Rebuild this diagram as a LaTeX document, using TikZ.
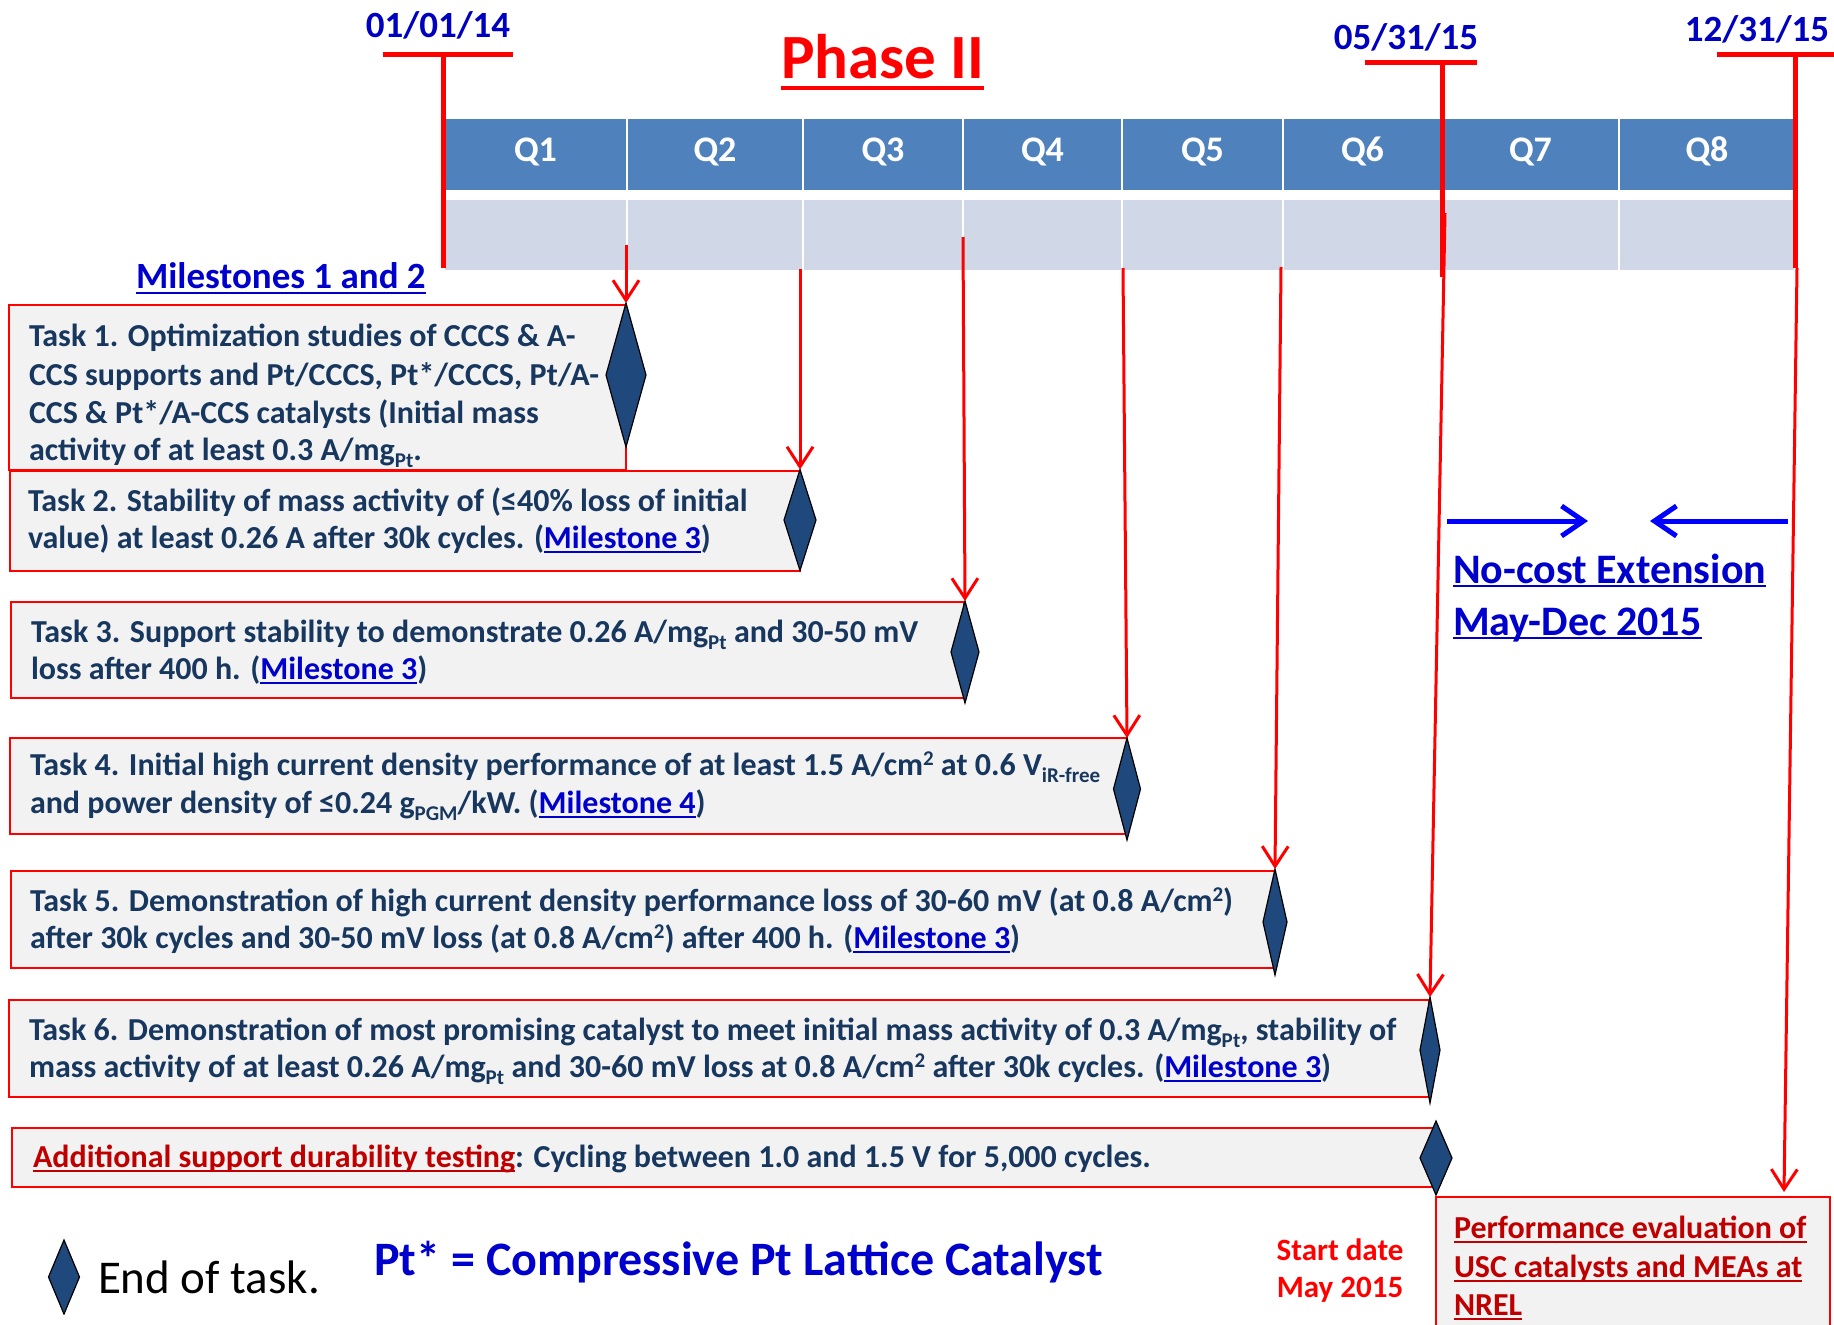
\documentclass[tikz,border=0pt]{standalone}
\usepackage{fontspec}
\setmainfont{Carlito}
\usetikzlibrary{arrows.meta,shapes.geometric}
\definecolor{taskcol}{HTML}{17375E}
\definecolor{linkblue}{HTML}{0000CC}
\definecolor{dateblue}{HTML}{0000C0}
\definecolor{qblue}{HTML}{4F81BD}
\definecolor{qgray}{HTML}{D0D8E8}
\definecolor{boxgray}{HTML}{F2F2F2}
\definecolor{diafill}{HTML}{1F497D}
\definecolor{darkred}{HTML}{C00000}
\newcommand\fsz[1]{\fontsize{#1}{#1}\selectfont}
\newcommand\sbs[1]{\raisebox{-7pt}{\fontsize{21}{21}\selectfont #1}}
\newcommand\sps[1]{\raisebox{10pt}{\fontsize{21}{21}\selectfont #1}}
\newcommand\myul[3]{\setbox0=\hbox{#3}\rlap{\rule[-#1]{\wd0}{#2}}\box0}
\newcommand\ms[1]{\textcolor{linkblue}{\myul{5pt}{2pt}{Milestone #1}}}
\tikzset{
  every node/.style={inner sep=0pt,outer sep=0pt},
  qcell/.style={draw=white,line width=2.5pt,fill=qblue,minimum height=73pt},
  gcell/.style={draw=white,line width=2.5pt,fill=qgray,minimum height=72pt},
  qlab/.style={anchor=base,text=white,font=\fsz{36}\bfseries},
  datetxt/.style={anchor=base,text=dateblue,font=\fsz{37}\bfseries},
  datebar/.style={draw=red,line width=5.5pt},
  dateline/.style={draw=red,line width=5pt},
  taskbox/.style={draw=red,line width=2.2pt,fill=boxgray,anchor=north west},
  enddia/.style={shape=diamond,draw=black,line width=1.2pt,fill=diafill},
  tasktxt/.style={anchor=base west,text=taskcol,font=\fsz{32}\bfseries},
  redarr/.style={draw=red,line width=3pt,-{Straight Barb[length=20pt,width=26pt]}},
  bluearr/.style={draw=blue,line width=5pt,-{Straight Barb[length=22pt,width=30pt]}},
}
\begin{document}
\begin{tikzpicture}[x=1pt,y=-1pt]
\useasboundingbox (0,0) rectangle (1834,1325);
\clip (0,0) rectangle (1834,1325);
\fill[white] (0,0) rectangle (1834,1325);

% header
\node[qcell,minimum width=183pt] (q1) at (535.5,154.5) {};
\node[qcell,minimum width=176pt] (q2) at (715,154.5) {};
\node[qcell,minimum width=160pt] (q3) at (883,154.5) {};
\node[qcell,minimum width=159pt] (q4) at (1042.5,154.5) {};
\node[qcell,minimum width=161pt] (q5) at (1202.5,154.5) {};
\node[qcell,minimum width=159pt] (q6) at (1362.5,154.5) {};
\node[qcell,minimum width=177pt] (q7) at (1530.5,154.5) {};
\node[qcell,minimum width=176pt] (q8) at (1707,154.5) {};
\node[gcell,minimum width=183pt] (g1) at (535.5,235) {};
\node[gcell,minimum width=176pt] (g2) at (715,235) {};
\node[gcell,minimum width=160pt] (g3) at (883,235) {};
\node[gcell,minimum width=159pt] (g4) at (1042.5,235) {};
\node[gcell,minimum width=161pt] (g5) at (1202.5,235) {};
\node[gcell,minimum width=159pt] (g6) at (1362.5,235) {};
\node[gcell,minimum width=177pt] (g7) at (1530.5,235) {};
\node[gcell,minimum width=176pt] (g8) at (1707,235) {};
\node[qlab] (l1) at (535.5,161) {Q1};
\node[qlab] (l2) at (715,161) {Q2};
\node[qlab] (l3) at (883,161) {Q3};
\node[qlab] (l4) at (1042.5,161) {Q4};
\node[qlab] (l5) at (1202.5,161) {Q5};
\node[qlab] (l6) at (1362.5,161) {Q6};
\node[qlab] (l7) at (1530.5,161) {Q7};
\node[qlab] (l8) at (1707,161) {Q8};

% title
\node[anchor=base west,text=red,font=\fsz{63}\bfseries] (phase) at (781,78) {\myul{12pt}{4pt}{Phase II}};

% date marks
\node[datetxt] (date1) at (438,37) {01/01/14};
\node[datetxt] (date2) at (1406,49) {05/31/15};
\node[datetxt] (date3) at (1757,41) {12/31/15};
\coordinate (m1l) at (383,54.5); \coordinate (m1r) at (513,54.5);
\coordinate (m1t) at (443,54.5); \coordinate (m1b) at (443,268);
\coordinate (m2l) at (1365,62.5); \coordinate (m2r) at (1477,62.5);
\coordinate (m2t) at (1442,62.5); \coordinate (m2b) at (1442,277);
\coordinate (m3l) at (1717,54.5); \coordinate (m3r) at (1834,54.5);
\coordinate (m3t) at (1795,54.5); \coordinate (m3b) at (1795,268);
\draw[datebar] (m1l) -- (m1r);
\draw[dateline] (m1t) -- (m1b);
\draw[datebar] (m2l) -- (m2r);
\draw[dateline] (m2t) -- (m2b);
\draw[datebar] (m3l) -- (m3r);
\draw[dateline] (m3t) -- (m3b);

\node[anchor=base west,text=linkblue,font=\fsz{37}\bfseries] (mst) at (136,288) {\myul{6pt}{2.5pt}{Milestones 1 and 2}};

% task boxes and diamonds
\node[taskbox,minimum width=617pt,minimum height=165pt] (b1) at (9,305) {};
\node[enddia,minimum width=40pt,minimum height=144pt] (d1) at (626,375) {};
\node[taskbox,minimum width=790pt,minimum height=100pt] (b2) at (10,471) {};
\node[enddia,minimum width=32pt,minimum height=101pt] (d2) at (800,520) {};
\node[taskbox,minimum width=953pt,minimum height=96pt] (b3) at (11,602) {};
\node[enddia,minimum width=28pt,minimum height=102pt] (d3) at (965,652) {};
\node[taskbox,minimum width=1117pt,minimum height=96pt] (b4) at (10,738) {};
\node[enddia,minimum width=27pt,minimum height=102pt] (d4) at (1127,789) {};
\node[taskbox,minimum width=1264pt,minimum height=97pt] (b5) at (11,871) {};
\node[enddia,minimum width=24pt,minimum height=106pt] (d5) at (1275,922) {};
\node[taskbox,minimum width=1420pt,minimum height=97pt] (b6) at (9,1000) {};
\node[enddia,minimum width=20pt,minimum height=106pt] (d6) at (1430,1050) {};
\node[taskbox,minimum width=1422pt,minimum height=59pt] (b7) at (12,1128) {};
\node[enddia,minimum width=32pt,minimum height=74pt] (d7) at (1436,1158) {};
\node[taskbox,minimum width=394pt,minimum height=150pt] (perf) at (1436,1197) {};

% task texts
\node[tasktxt] (t1a) at (29,346) {Task 1. Optimization studies of CCCS \& A-};
\node[tasktxt] (t1b) at (29,385) {CCS supports and Pt/CCCS, Pt*/CCCS, Pt/A-};
\node[tasktxt] (t1c) at (29,423) {CCS \& Pt*/A-CCS catalysts (Initial mass};
\node[tasktxt] (t1d) at (29,460) {activity of at least 0.3 A/mg\sbs{Pt}.};
\node[tasktxt] (t2a) at (28,511) {Task 2. Stability of mass activity of (≤40\% loss of initial};
\node[tasktxt] (t2b) at (28,548) {value) at least 0.26 A after 30k cycles. (\ms{3})};
\node[tasktxt] (t3a) at (31,642) {Task 3. Support stability to demonstrate 0.26 A/mg\sbs{Pt} and 30-50 mV};
\node[tasktxt] (t3b) at (31,679) {loss after 400 h. (\ms{3})};
\node[tasktxt] (t4a) at (30,775) {Task 4. Initial high current density performance of at least 1.5 A/cm\sps{2} at 0.6 V\sbs{iR-free}};
\node[tasktxt] (t4b) at (30,813) {and power density of ≤0.24 g\sbs{PGM}/kW. (\ms{4})};
\node[tasktxt] (t5a) at (30,911) {Task 5. Demonstration of high current density performance loss of 30-60 mV (at 0.8 A/cm\sps{2})};
\node[tasktxt] (t5b) at (30,948) {after 30k cycles and 30-50 mV loss (at 0.8 A/cm\sps{2}) after 400 h. (\ms{3})};
\node[tasktxt] (t6a) at (29,1040) {Task 6. Demonstration of most promising catalyst to meet initial mass activity of 0.3 A/mg\sbs{Pt}, stability of};
\node[tasktxt] (t6b) at (29,1077) {mass activity of at least 0.26 A/mg\sbs{Pt} and 30-60 mV loss at 0.8 A/cm\sps{2} after 30k cycles. (\ms{3})};
\node[tasktxt] (t7) at (33,1167) {\textcolor{darkred}{\myul{5pt}{2pt}{Additional support durability testing}}: Cycling between 1.0 and 1.5 V for 5,000 cycles.};

% perf box text
\node[tasktxt,text=darkred] (pe1) at (1454,1238) {\myul{5pt}{2pt}{Performance evaluation of}};
\node[tasktxt,text=darkred] (pe2) at (1454,1277) {\myul{5pt}{2pt}{USC catalysts and MEAs at}};
\node[tasktxt,text=darkred] (pe3) at (1454,1315) {\myul{5pt}{2pt}{NREL}};

% no-cost extension
\node[anchor=base west,text=linkblue,font=\fsz{42}\bfseries] (nce1) at (1453,583) {\myul{4pt}{2.5pt}{No-cost Extension}};
\node[anchor=base west,text=linkblue,font=\fsz{42}\bfseries] (nce2) at (1453,635) {\myul{4pt}{2.5pt}{May-Dec 2015}};
\coordinate (be1s) at (1447,521); \coordinate (be1e) at (1588,521);
\coordinate (be2s) at (1788,521); \coordinate (be2e) at (1650,521);
\draw[bluearr] (be1s) -- (be1e);
\draw[bluearr] (be2s) -- (be2e);

% legend and notes
\node[enddia,minimum width=31pt,minimum height=74pt] (legdia) at (64,1277) {};
\node[anchor=base west,font=\fsz{47}] (eot) at (98,1293) {End of task.};
\node[anchor=base west,text=linkblue,font=\fsz{48}\bfseries] (ptdef) at (374,1275) {Pt* = Compressive Pt Lattice Catalyst};
\node[anchor=base,text=red,font=\fsz{31}\bfseries] (sd1) at (1340,1260) {Start date};
\node[anchor=base,text=red,font=\fsz{31}\bfseries] (sd2) at (1340,1297) {May 2015};

% red arrows
\coordinate (a1s) at (626,245);
\coordinate (a2s) at (800,269);
\coordinate (a3s) at (963,237);
\coordinate (a4s) at (1123,268);
\coordinate (a5s) at (1281,267);
\coordinate (a6s) at (1445,213);
\coordinate (a7s) at (1797,268);
\coordinate (a7e) at (1784,1192);
\draw[redarr] (a1s) -- (d1.north);
\draw[redarr] (a2s) -- (d2.north);
\draw[redarr] (a3s) -- (d3.north);
\draw[redarr] (a4s) -- (d4.north);
\draw[redarr] (a5s) -- (d5.north);
\draw[redarr] (a6s) -- (d6.north);
\draw[redarr] (a7s) -- (a7e);
\end{tikzpicture}
\end{document}
